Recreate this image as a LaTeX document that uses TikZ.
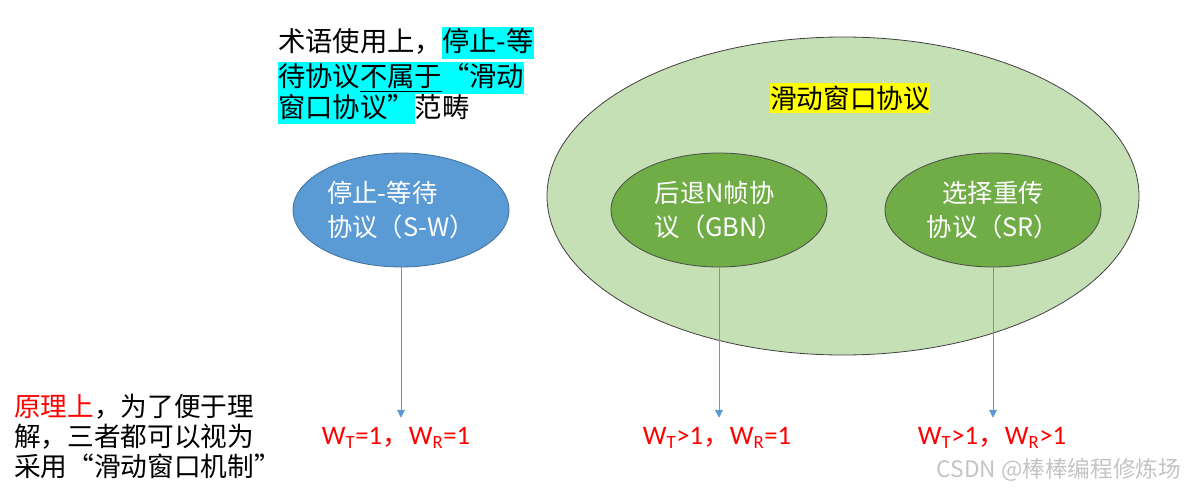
\documentclass[tikz,border=0pt]{standalone}
\usepackage{fontspec}
\setmainfont{Noto Sans CJK SC}
\newfontfamily\latfont{Carlito}
\usetikzlibrary{arrows.meta,shapes.geometric}
\definecolor{swblue}{HTML}{5B9BD5}
\definecolor{swedge}{HTML}{41719C}
\definecolor{winfill}{HTML}{C5E0B4}
\definecolor{protofill}{HTML}{70AD47}
\definecolor{hlcyan}{HTML}{00FFFF}
\definecolor{hlyellow}{HTML}{FFFF00}
\definecolor{wmgray}{HTML}{C4C4C4}
\newcommand{\hlcy}[1]{{\setlength{\fboxsep}{0pt}\colorbox{hlcyan}{\rule[-5pt]{0pt}{24pt}#1}}}
\newcommand{\wsub}[2]{{\latfont W\textsubscript{#1}#2}}

\begin{document}
\begin{tikzpicture}[x=0.75pt, y=-0.75pt,
    proto/.style={ellipse, draw=black!70, fill=protofill, line width=0.6pt, inner sep=0pt,
      minimum width=162pt, minimum height=85.5pt, align=center, text=white, font=\fontsize{19}{25.5}\selectfont},
    window/.style={ellipse, draw=black!75, fill=winfill, line width=0.6pt, minimum width=444pt, minimum height=238.5pt},
    wlabel/.style={text=red, inner xsep=0pt, inner ysep=5pt, font=\fontsize{20}{24}\selectfont},
    note/.style={anchor=base west, inner sep=0pt, font=\fontsize{20.5}{24}\selectfont},
    arrow/.style={-{Triangle[length=6pt,width=6pt]}, draw=swblue, line width=0.6pt}]
  \useasboundingbox (0,0) rectangle (1184,492);
  % ---------------- terminology note ----------------
  \node[note] (note1) at (278,52) {术语使用上，\hlcy{停止-等}};
  \node[note] (note2) at (278,87) {\hlcy{待协议\underline{不属于}“滑动}};
  \node[note] (note3) at (278,117) {\hlcy{窗口协议”}范畴};
  % ---------------- sliding window family ----------------
  \node[window] (SWP) at (843,196) {};
  \node[fill=hlyellow, inner sep=0pt, minimum height=22.5pt, font=\fontsize{20}{24}\selectfont] (title) at (850,98) {滑动窗口协议};
  \node[proto, fill=swblue, draw=swedge, align=left] (SW) at (401,210) {停止-等待\\协议（S-W）};
  \node[proto, align=left] (GBN) at (719,210) {后退N帧协\\议（GBN）};
  \node[proto] (SR) at (993,210) {选择重传\\协议（SR）};
  % ---------------- window sizes ----------------
  \node[wlabel] (wSW) at (396,438) {\wsub{T}{=1}，\wsub{R}{=1}};
  \node[wlabel] (wGBN) at (717,438) {\wsub{T}{>1}，\wsub{R}{=1}};
  \node[wlabel] (wSR) at (992,438) {\wsub{T}{>1}，\wsub{R}{>1}};
  \foreach \p/\w in {SW/wSW, GBN/wGBN, SR/wSR}
    \draw[arrow, shorten >=2pt] (\p.south) -- (\p.south |- \w.north);
  % ---------------- principle note ----------------
  \node[anchor=base west, align=left, inner sep=0pt, font=\fontsize{20}{22.5}\selectfont] (princ) at (14,476)
       {\textcolor{red}{原理上}，为了便于理\\解，三者都可以视为\\采用“滑动窗口机制”};
  \node[text=wmgray, inner sep=0pt, font=\fontsize{17}{20}\selectfont] (mark) at (1059,470) {CSDN @棒棒编程修炼场};
\end{tikzpicture}
\end{document}
